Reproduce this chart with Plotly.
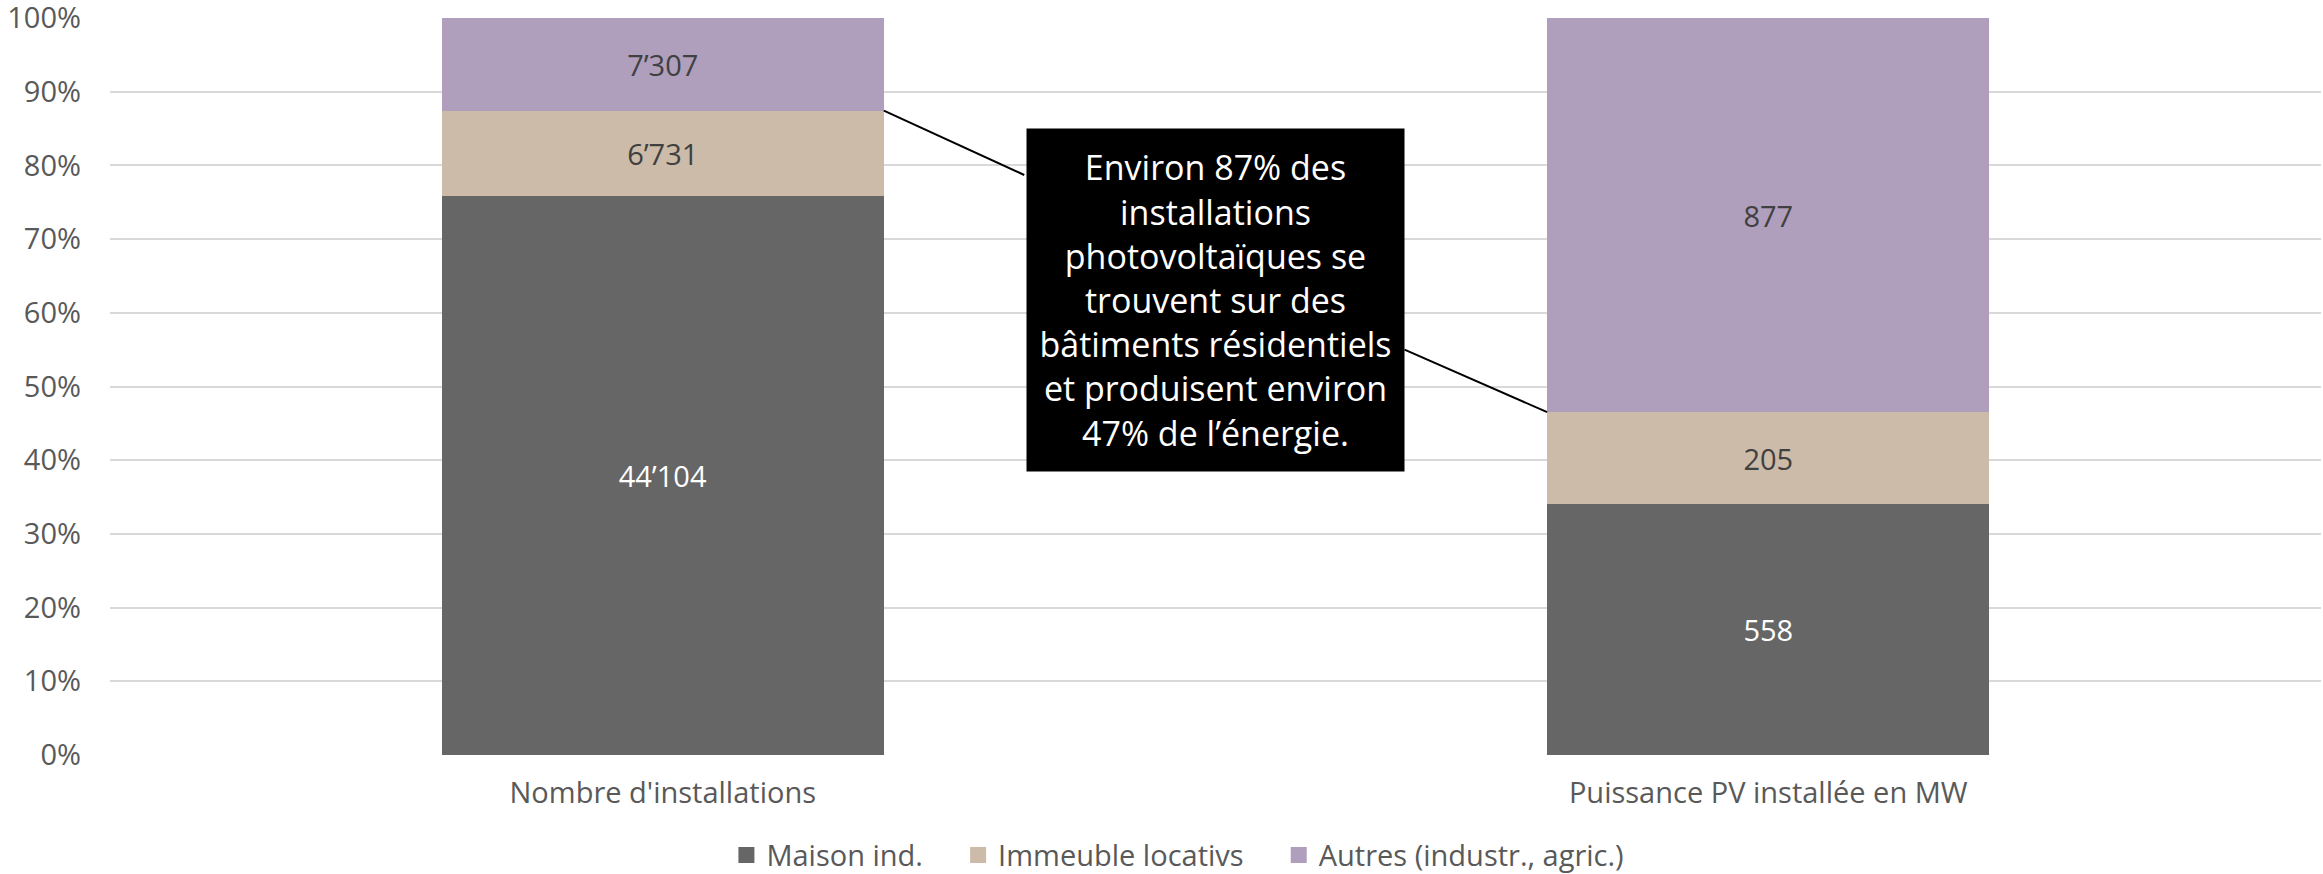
import plotly.graph_objects as go

categories = ["Nombre d'installations", "Puissance PV installée en MW"]
maison = [44104, 558]
immeuble = [6731, 205]
autres = [7307, 877]
series_names = ["Maison ind.", "Immeuble locativs", "Autres (industr., agric.)"]
colors = ["#666666", "#CDBBA9", "#AF9FBD"]
label_colors = ["#FFFFFF", "#404040", "#404040"]
y_ticks = [0, 10, 20, 30, 40, 50, 60, 70, 80, 90, 100]
y_tick_labels = [f"{v}%" for v in y_ticks]
note = ("Environ 87% des<br>installations<br>photovoltaïques se<br>trouvent sur des"
        "<br>bâtiments résidentiels<br>et produisent environ<br>47% de l’énergie.")

FONT = "Open Sans"
FS = 29

def fmt(v):
    return f"{v:,}".replace(",", "’")

fig = go.Figure()
for name, vals, col, lc in zip(series_names, [maison, immeuble, autres], colors, label_colors):
    fig.add_trace(go.Bar(
        x=categories, y=vals, name=name, marker=dict(color=col, line=dict(width=0)),
        text=[fmt(v) for v in vals], textposition="inside", insidetextanchor="middle",
        textfont=dict(family=FONT, size=FS, color=lc), constraintext="none",
        showlegend=False, hoverinfo="skip",
    ))

# legend entries with larger square swatches
pads = ["\u00a0" * 4, "\u00a0" * 4, ""]
for name, col, pad in zip(series_names, colors, pads):
    fig.add_trace(go.Scatter(
        x=[None], y=[None], mode="markers", name=name + pad,
        marker=dict(symbol="square", size=20, color=col), showlegend=True,
    ))

totals = [m + i + a for m, i, a in zip(maison, immeuble, autres)]
res_share = [(m + i) / t * 100 for m, i, t in zip(maison, immeuble, totals)]
half_w = 0.2

fig.update_layout(
    barmode="stack", barnorm="percent", bargap=0.6,
    width=2323, height=874,
    margin=dict(l=110, r=2, t=18, b=119, autoexpand=False),
    plot_bgcolor="white", paper_bgcolor="white",
    font=dict(family=FONT, size=FS, color="#595959"),
    showlegend=True,
    legend=dict(orientation="h", x=0.483, xanchor="center", y=-0.136, yanchor="middle",
                font=dict(family=FONT, size=FS, color="#595959"), traceorder="normal",
                itemwidth=30),
    xaxis=dict(type="category", range=[-0.5, 1.5], showgrid=False, showline=False,
               ticks="", ticklabelstandoff=18, automargin=False,
               tickfont=dict(size=FS, color="#595959")),
    yaxis=dict(range=[0, 100.001], tickmode="array", tickvals=y_ticks, ticktext=y_tick_labels,
               showgrid=True, gridcolor="#D9D9D9", gridwidth=2, zeroline=False, showline=False,
               ticklabelstandoff=28, ticklabeloverflow="allow", automargin=False,
               tickfont=dict(size=FS, color="#595959")),
)

fig.add_annotation(
    x=0.5, y=61.7, xref="x", yref="y", text=note, showarrow=False,
    bgcolor="black", font=dict(family=FONT, size=34, color="white"),
    width=365, height=330, align="center", valign="middle", borderpad=6,
)

fig.add_shape(type="line", xref="x", yref="y", x0=0 + half_w, y0=res_share[0], x1=0.327, y1=78.7,
              line=dict(color="black", width=2))
fig.add_shape(type="line", xref="x", yref="y", x0=0.671, y0=55.0, x1=1 - half_w, y1=res_share[1],
              line=dict(color="black", width=2))

fig.write_html(
    "out.html",
    config={"displayModeBar": False},
    post_script="document.body.style.margin='0';document.body.style.overflow='hidden';",
)
